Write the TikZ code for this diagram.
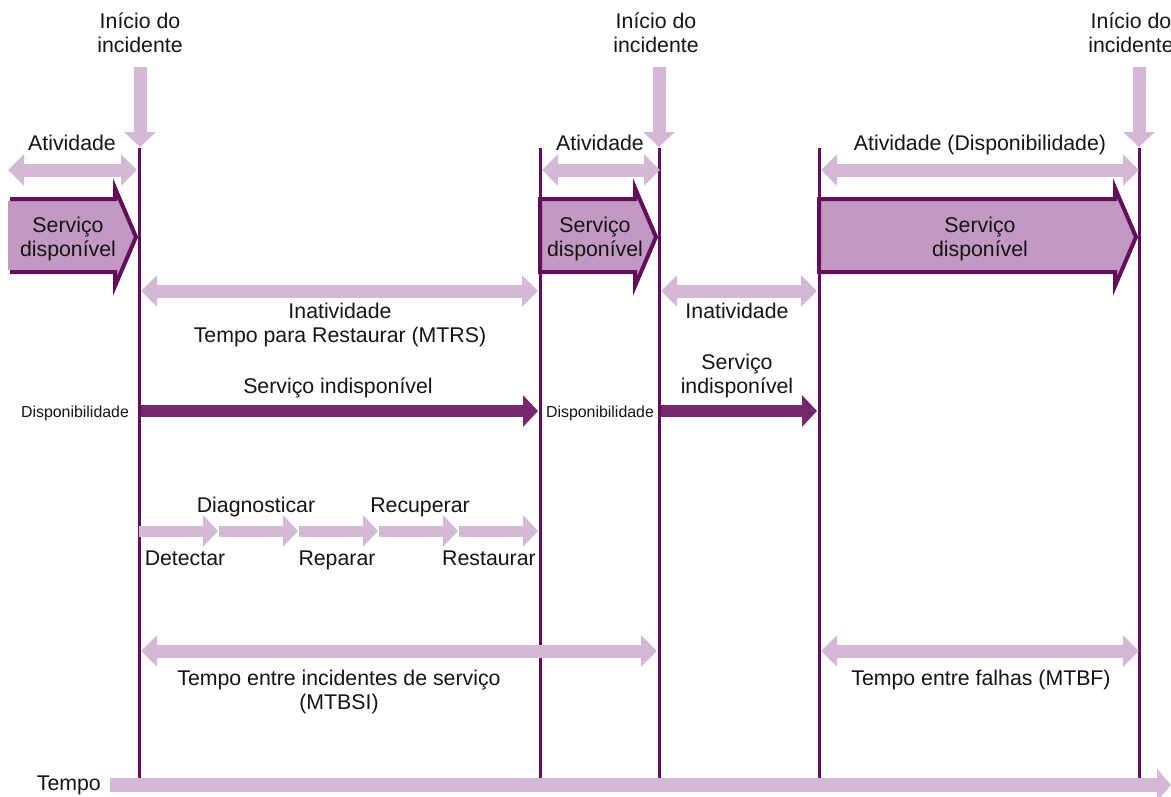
\documentclass[tikz,border=0pt]{standalone}
\usepackage{fontspec}
\setmainfont{Liberation Sans}
\usetikzlibrary{arrows.meta}

\definecolor{lilac}{RGB}{212,185,214}
\definecolor{plum}{RGB}{98,14,88}
\definecolor{mauve}{RGB}{193,153,195}
\definecolor{berry}{RGB}{118,40,110}
\definecolor{ink}{RGB}{20,20,20}

\tikzset{
  lbl/.style={font=\fontsize{21.3}{24}\selectfont, align=center, text=ink, inner sep=0pt, anchor=base},
  tiny/.style={font=\fontsize{15.9}{18}\selectfont, text=ink, inner sep=0pt, anchor=base},
  fat/.style={draw=lilac, line width=13pt, -{Triangle[length=15pt,width=31pt]}},
  fatboth/.style={draw=lilac, line width=13pt,
    {Triangle[length=16pt,width=31pt]}-{Triangle[length=16pt,width=31pt]}},
  chainarrow/.style={draw=lilac, line width=11pt, -{Triangle[length=15pt,width=31pt]}},
  outage/.style={draw=berry, line width=12pt, -{Triangle[length=15pt,width=31pt]}},
  timeline/.style={draw=plum, line width=3pt},
  svc/.style={fill=mauve, draw=plum, line width=4pt},
}

\begin{document}
\begin{tikzpicture}[x=1pt,y=-1pt]
\useasboundingbox (0,0) rectangle (1171,796);

% time axis
\coordinate (t0) at (110,785);
\coordinate (t1) at (1171,785);
\draw[draw=lilac, line width=14pt, -{Triangle[length=14pt,width=32pt]}] (t0) -- (t1);
\node[lbl, anchor=base east] (tempo) at (101,790) {Tempo};

% event lines
\foreach \n/\x in {a/139,b/540,c/659,d/819,e/1139}{
  \coordinate (\n top) at (\x,148);
  \coordinate (\n bot) at (\x,778);
}

% service available blocks
\draw[svc] (10,199) -- (115,199) -- (115,188) -- (136,237) -- (115,286) -- (115,272) -- (10,272);
\fill[mauve] (8,201) rectangle (10,270);
\draw[svc] (540,199) -- (635,199) -- (635,188) -- (656,237) -- (635,286) -- (635,272) -- (540,272) -- cycle;
\draw[svc] (819,199) -- (1115,199) -- (1115,188) -- (1136,237) -- (1115,286) -- (1115,272) -- (819,272) -- cycle;
\node[lbl] (sd1) at (68,256) {Serviço\\disponível};
\node[lbl] (sd2) at (595,256) {Serviço\\disponível};
\node[lbl] (sd3) at (980,256) {Serviço\\disponível};

\foreach \n in {a,b,c,d,e}{ \draw[timeline] (\n top) -- (\n bot); }

% incident markers
\foreach \n/\x/\lx in {a/140/140,c/659/656,e/1139/1131}{
  \coordinate (\n in) at (\x,67);
  \coordinate (\n hit) at (\x,147);
  \draw[fat] (\n in) -- (\n hit);
  \node[lbl] (\n label) at (\lx,52) {Início do\\incidente};
}

% activity spans
\coordinate (act1l) at (8,170);    \coordinate (act1r) at (137,170);
\coordinate (act2l) at (542,170);  \coordinate (act2r) at (660,170);
\coordinate (act3l) at (821,170);  \coordinate (act3r) at (1139,170);
\draw[fatboth] (act1l) -- (act1r);
\draw[fatboth] (act2l) -- (act2r);
\draw[fatboth] (act3l) -- (act3r);
\node[lbl] (atv1) at (72,150) {Atividade};
\node[lbl] (atv2) at (600,150) {Atividade};
\node[lbl] (atv3) at (980,150) {Atividade (Disponibilidade)};

% downtime spans
\coordinate (down1l) at (141,291); \coordinate (down1r) at (538,291);
\coordinate (down2l) at (661,291); \coordinate (down2r) at (817,291);
\draw[fatboth] (down1l) -- (down1r);
\draw[fatboth] (down2l) -- (down2r);
\node[lbl] (ina1) at (340,342) {Inatividade\\Tempo para Restaurar (MTRS)};
\node[lbl] (ina2) at (737,318) {Inatividade};

% service unavailable
\coordinate (out1l) at (141,411); \coordinate (out1r) at (538,411);
\coordinate (out2l) at (661,411); \coordinate (out2r) at (817,411);
\draw[outage] (out1l) -- (out1r);
\draw[outage] (out2l) -- (out2r);
\node[tiny] (disp1) at (75,417) {Disponibilidade};
\node[tiny] (disp2) at (600,417) {Disponibilidade};
\node[lbl] (si1) at (338,393) {Serviço indisponível};
\node[lbl] (si2) at (737,393) {Serviço\\indisponível};

% restoration steps
\foreach \i/\s/\e in {1/139/218,2/219/298,3/299/378,4/379/458,5/459/538}{
  \coordinate (st\i) at (\s,531);
  \coordinate (en\i) at (\e,531);
  \draw[chainarrow] (st\i) -- (en\i);
}
\node[lbl] (detectar) at (185,565) {Detectar};
\node[lbl] (diagnosticar) at (256,512) {Diagnosticar};
\node[lbl] (reparar) at (337,565) {Reparar};
\node[lbl] (recuperar) at (420,512) {Recuperar};
\node[lbl] (restaurar) at (489,565) {Restaurar};

% MTBSI and MTBF
\coordinate (mtbsil) at (141,651); \coordinate (mtbsir) at (657,651);
\coordinate (mtbfl) at (821,651);  \coordinate (mtbfr) at (1139,651);
\draw[fatboth] (mtbsil) -- (mtbsir);
\draw[fatboth] (mtbfl) -- (mtbfr);
\node[lbl] (mtbsi) at (339,709) {Tempo entre incidentes de serviço\\(MTBSI)};
\node[lbl] (mtbf) at (981,685) {Tempo entre falhas (MTBF)};
\end{tikzpicture}
\end{document}
